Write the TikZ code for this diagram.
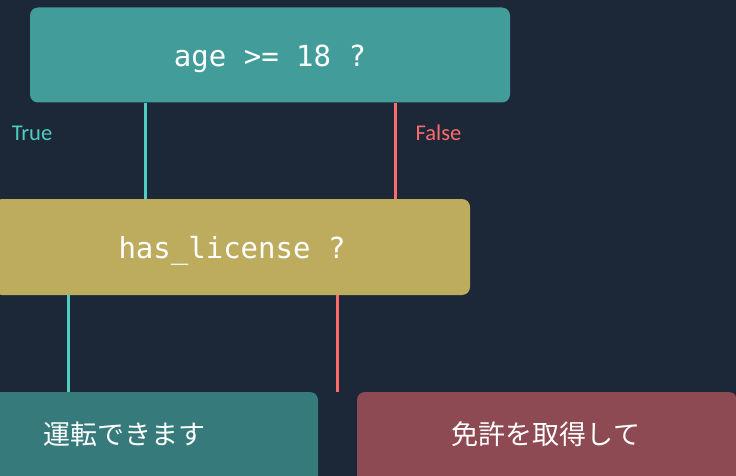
\documentclass[tikz,border=0pt]{standalone}
\usepackage{fontspec}
\setmainfont{Carlito}
\setmonofont{DejaVu Sans Mono}
\newfontfamily\jpfont{Noto Sans CJK JP}
\definecolor{bgc}{HTML}{1C2838}
\definecolor{topc}{HTML}{419C9A}
\definecolor{midc}{HTML}{BDAC5E}
\definecolor{okc}{HTML}{367A7C}
\definecolor{noc}{HTML}{8E4A53}
\definecolor{truec}{HTML}{4ECDC4}
\definecolor{falsec}{HTML}{FF6B6B}
\tikzset{
  box/.style={rectangle, rounded corners=8pt, inner sep=0pt, text=white},
  codetxt/.style={font=\ttfamily\fontsize{29}{32}\selectfont, text height=29pt, text depth=6.6pt},
  jptxt/.style={font=\jpfont\fontsize{27}{32}\selectfont, text=white},
  tline/.style={draw=truec, line width=3pt},
  fline/.style={draw=falsec, line width=3pt},
  lbl/.style={font=\fontsize{22.5}{26}\selectfont}
}
\begin{document}
\begin{tikzpicture}[x=1pt,y=-1pt]
\useasboundingbox (0,0) rectangle (736,476);
\fill[bgc] (0,0) rectangle (736,476);
\begin{scope}
\clip (0,0) rectangle (736,476);
\node[box, fill=topc, minimum width=480, minimum height=95, codetxt] (q1) at (270,55) {age >= 18 ?};
\node[box, fill=midc, minimum width=476, minimum height=96, codetxt] (q2) at (232,247) {has\_license ?};
\node[box, fill=okc, minimum width=388, minimum height=110] (r1) at (124,447) {};
\node[box, fill=noc, minimum width=380, minimum height=110] (r2) at (547,447) {};
\node[jptxt] (r1t) at (124,434) {運転できます};
\node[jptxt] (r2t) at (546,434) {免許を取得して};
\coordinate (x1) at (145.5,0);
\coordinate (x2) at (395,0);
\coordinate (x3) at (68.5,0);
\coordinate (x4) at (337.5,0);
\draw[tline] (q1.south -| x1) -- (q2.north -| x1);
\draw[fline] (q1.south -| x2) -- (q2.north -| x2);
\draw[tline] (q2.south -| x3) -- (r1.north -| x3);
\draw[fline] (q2.south -| x4) -- (r2.north -| x4);
\node[lbl, text=truec] (tl) at (32,133) {True};
\node[lbl, text=falsec] (fl) at (438.5,133) {False};
\end{scope}
\end{tikzpicture}
\end{document}
